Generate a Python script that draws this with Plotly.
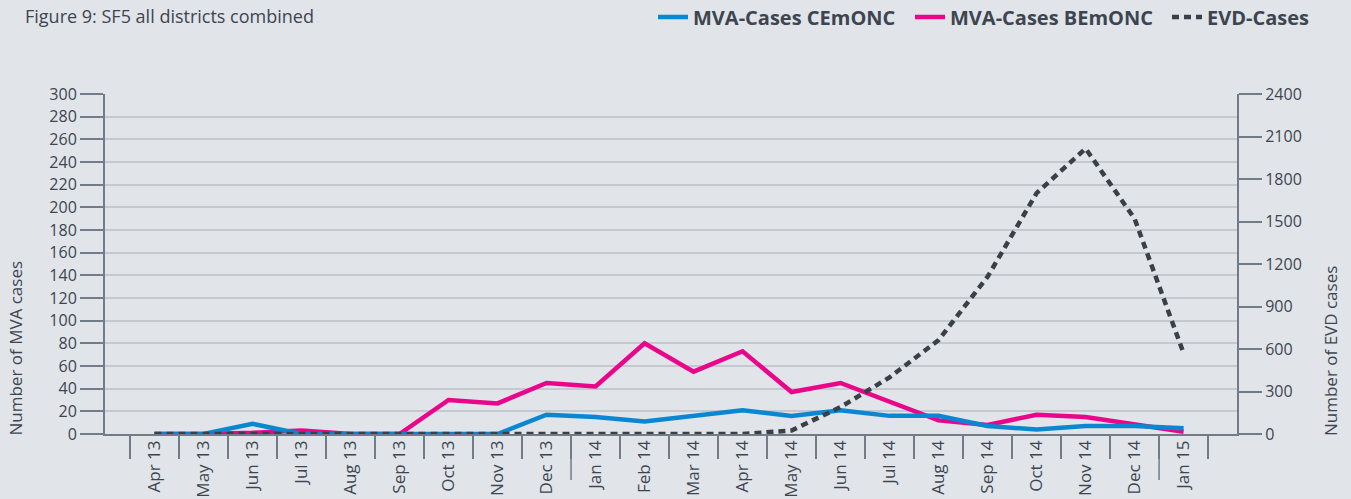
import plotly.graph_objects as go

months = ["Apr 13", "May 13", "Jun 13", "Jul 13", "Aug 13", "Sep 13", "Oct 13", "Nov 13",
          "Dec 13", "Jan 14", "Feb 14", "Mar 14", "Apr 14", "May 14", "Jun 14", "Jul 14",
          "Aug 14", "Sep 14", "Oct 14", "Nov 14", "Dec 14", "Jan 15"]
mva_cemonc = [0, 0, 9, 0, 0, 0, 0, 0, 17, 15, 11, 16, 21, 16, 21, 16, 16, 7, 4, 7, 7, 5]
mva_bemonc = [0, 0, 1, 3, 0, 0, 30, 27, 45, 42, 80, 55, 73, 37, 45, 28, 12, 8, 17, 15, 9, 2]
evd_cases = [0, 0, 0, 0, 0, 0, 0, 0, 0, 0, 0, 0, 0, 25, 190, 400, 663, 1110, 1700, 2015, 1520, 570]

BG = "#e1e4e9"
TXT = "#3d4650"
AX = "#717c88"
GRID = "#c4c9d0"
BLUE = "#0b87d2"
PINK = "#ea068b"
DARK = "#394048"
FONT = "Open Sans"

fig = go.Figure()
fig.add_trace(go.Scatter(x=months, y=mva_bemonc, mode="lines", name="MVA-Cases BEmONC",
                         line=dict(color=PINK, width=4.5), legend="legend2"))
fig.add_trace(go.Scatter(x=months, y=mva_cemonc, mode="lines", name="MVA-Cases CEmONC",
                         line=dict(color=BLUE, width=4.5), legend="legend"))
fig.add_trace(go.Scatter(x=months, y=evd_cases, mode="lines", name="EVD-Cases", yaxis="y2",
                         line=dict(color=DARK, width=4.5, dash="7px,5px"), legend="legend3"))

# longer ticks at year boundaries
shapes = []
for i, m in enumerate(months):
    if m.startswith("Jan") and i > 0:
        shapes.append(dict(type="line", xref="x", yref="paper", x0=i - 0.5, x1=i - 0.5,
                           y0=0, y1=-46 / 340, line=dict(color=AX, width=1.5)))


def leg(xpx):
    return dict(orientation="h", xref="container", yref="paper", x=xpx / 1351, y=1 + 77 / 340,
                xanchor="left", yanchor="middle",
                font=dict(family=FONT, size=20, color=TXT, weight="bold"),
                bgcolor="rgba(0,0,0,0)", itemwidth=30)


fig.update_layout(
    width=1351, height=499,
    paper_bgcolor=BG, plot_bgcolor=BG,
    margin=dict(l=105, r=114, t=94, b=65, autoexpand=False),
    font=dict(family=FONT, size=16, color=TXT),
    showlegend=True,
    legend=leg(653), legend2=leg(910), legend3=leg(1167),
    title=dict(text="Figure 9: SF5 all districts combined", xref="container", yref="container",
               x=25 / 1351, y=1 - 17 / 499, xanchor="left", yanchor="middle",
               font=dict(family=FONT, size=18, color=TXT)),
    xaxis=dict(type="category", range=[-1.01, 22.09], tickangle=-90, ticks="outside",
               tickson="boundaries", ticklen=23, tickwidth=1.5, tickcolor=AX,
               showline=True, linecolor=AX, linewidth=1.5, showgrid=False, automargin=False,
               ticklabelstandoff=-2, tickfont=dict(size=17, color=TXT)),
    yaxis=dict(range=[0, 300], dtick=20, ticks="outside", ticklen=23, tickwidth=1.5,
               tickcolor=AX, showline=True, linecolor=AX, linewidth=2, showgrid=True,
               automargin=False, gridcolor=GRID, gridwidth=1.5, zeroline=False,
               tickfont=dict(size=16, color=TXT)),
    yaxis2=dict(range=[0, 2400], dtick=300, overlaying="y", side="right", ticks="outside",
                ticklen=23, tickwidth=1.5, tickcolor=AX, showline=True, linecolor=AX,
                automargin=False, linewidth=2, showgrid=False, zeroline=False,
                tickfont=dict(size=16, color=TXT)),
    shapes=shapes,
    annotations=[
        dict(text="Number of MVA cases", xref="paper", yref="paper", x=-90 / 1132, y=-4 / 340,
             xanchor="center", yanchor="bottom", textangle=-90, showarrow=False,
             font=dict(family=FONT, size=17, color=TXT)),
        dict(text="Number of EVD cases", xref="paper", yref="paper", x=1 + 93 / 1132, y=-4 / 340,
             xanchor="center", yanchor="bottom", textangle=-90, showarrow=False,
             font=dict(family=FONT, size=17, color=TXT)),
    ],
)

fig.write_html("out.html", config={"displayModeBar": False},
               post_script="document.body.style.margin='0';document.body.style.padding='0';")
